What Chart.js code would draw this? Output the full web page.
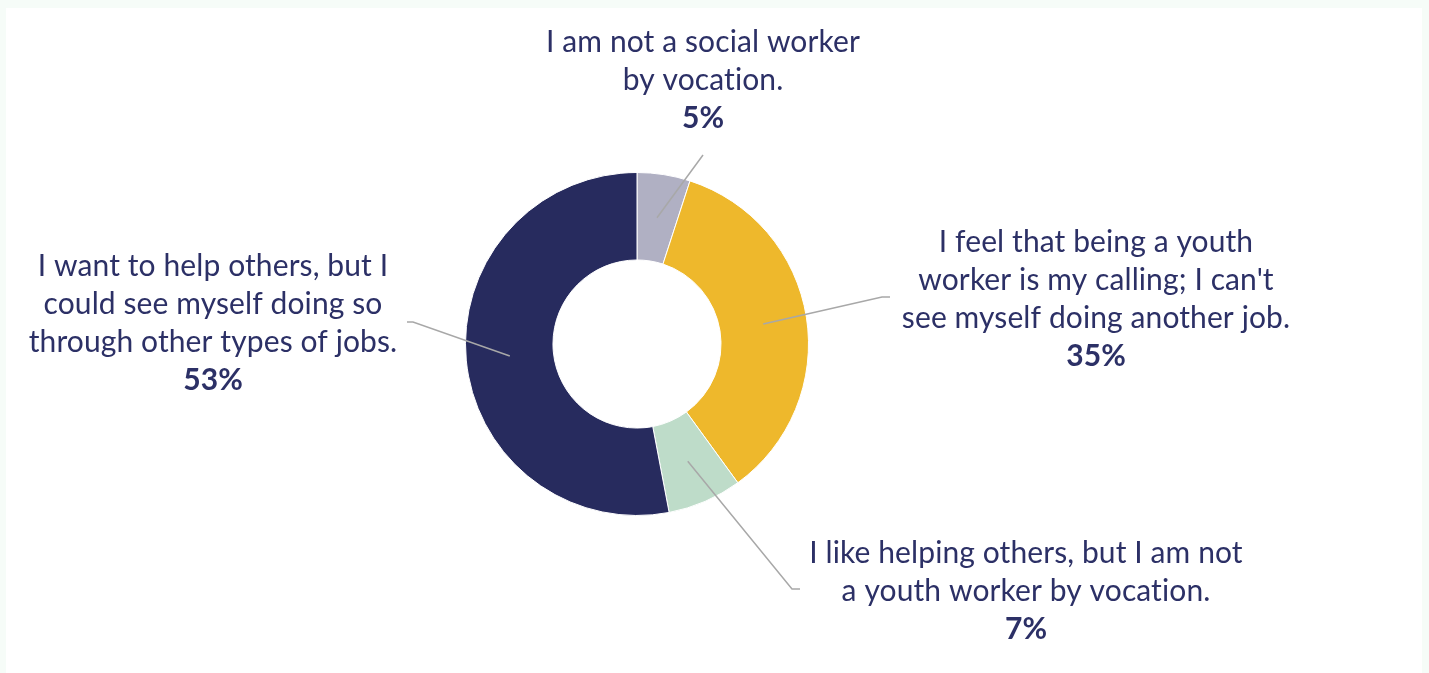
<!DOCTYPE html>
<html>
<head>
<meta charset="utf-8">
<title>Motivation for youth work</title>
<script src="https://cdn.jsdelivr.net/npm/chart.js@4"></script>
<style>
  html, body { margin: 0; padding: 0; background: #f6fcf8; }
  #frame { position: absolute; left: 6px; top: 8px; width: 1416px; height: 665px; background: #ffffff; }
  #wrap { position: absolute; left: 0; top: 0; width: 1429px; height: 673px; }
</style>
</head>
<body>
<div id="frame"></div>
<div id="wrap"><canvas id="donut" width="1429" height="673"></canvas></div>
<script>
const categories = [
  ["I am not a social worker", "by vocation."],
  ["I feel that being a youth", "worker is my calling; I can't", "see myself doing another job."],
  ["I like helping others, but I am not", "a youth worker by vocation."],
  ["I want to help others, but I", "could see myself doing so", "through other types of jobs."]
];
const shares = [5, 35, 7, 53];
const sliceColors = ['#b0b0c3', '#eeb82c', '#bedcc9', '#272b5e'];

const TEXT = '#2c3066';
const LEADER = '#a8a8a8';
const FONT = 'Lato, "Noto Sans", sans-serif';
const FONT_PX = 30;
const LINE_H = 38;

// where each callout sits: leader elbow, leader end, centre of the first text line
const callouts = [
  { elbow: [703, 155], end: [703, 155], tx: 703, ty: 42 },
  { elbow: [882, 297], end: [890, 297], tx: 1096, ty: 242 },
  { elbow: [792, 589], end: [800, 589], tx: 1026, ty: 553 },
  { elbow: [413, 322], end: [407, 322], tx: 213, ty: 266 }
];

const calloutPlugin = {
  id: 'callouts',
  afterDatasetsDraw(chart) {
    const ctx = chart.ctx;
    const arcs = chart.getDatasetMeta(0).data;
    ctx.save();
    arcs.forEach((arc, i) => {
      const c = callouts[i];
      const p = arc.tooltipPosition();
      ctx.strokeStyle = LEADER;
      ctx.lineWidth = 1.5;
      ctx.beginPath();
      ctx.moveTo(p.x, p.y);
      ctx.lineTo(c.elbow[0], c.elbow[1]);
      ctx.lineTo(c.end[0], c.end[1]);
      ctx.stroke();

      ctx.fillStyle = TEXT;
      ctx.textAlign = 'center';
      ctx.textBaseline = 'middle';
      // tiny spacing keeps "ti" from turning into a ligature
      ctx.letterSpacing = '0.1px';
      ctx.font = FONT_PX + 'px ' + FONT;
      const lines = categories[i];
      lines.forEach((t, k) => ctx.fillText(t, c.tx, c.ty + k * LINE_H));
      ctx.font = 'bold ' + FONT_PX + 'px ' + FONT;
      ctx.fillText(shares[i] + '%', c.tx, c.ty + lines.length * LINE_H);
    });
    ctx.restore();
  }
};

new Chart(document.getElementById('donut'), {
  type: 'doughnut',
  data: {
    labels: categories.map(l => l.join(' ')),
    datasets: [{
      data: shares,
      backgroundColor: sliceColors,
      borderColor: '#ffffff',
      borderWidth: 1
    }]
  },
  options: {
    responsive: false,
    animation: false,
    cutout: '49%',
    layout: { padding: { left: 465, right: 620, top: 172, bottom: 157 } },
    plugins: {
      legend: { display: false },
      tooltip: { enabled: false }
    }
  },
  plugins: [calloutPlugin]
});
</script>
</body>
</html>
